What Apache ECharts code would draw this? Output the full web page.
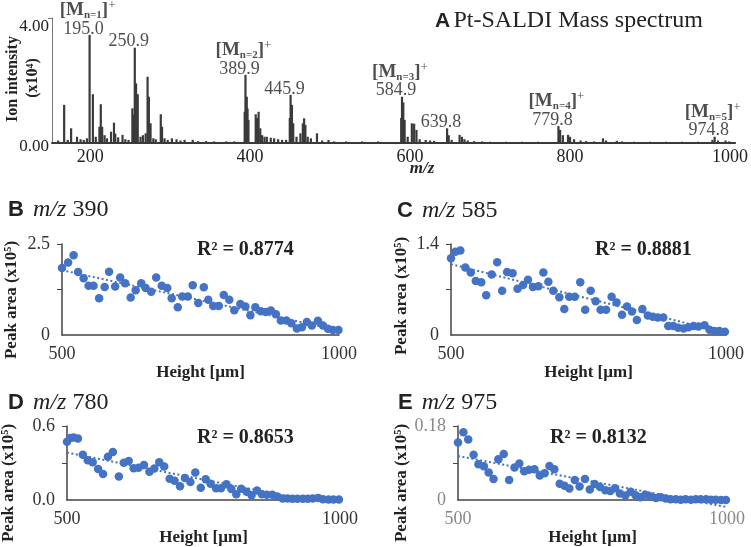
<!DOCTYPE html>
<html><head><meta charset="utf-8">
<script src="https://cdn.jsdelivr.net/npm/echarts@6/dist/echarts.min.js"></script>
<style>html,body{margin:0;padding:0;background:#fff}#c{width:751px;height:547px}</style>
</head><body><div id="c"></div>
<script>
const SERIF = '"Liberation Serif","Times New Roman",serif';
const SANS = '"Liberation Sans",Arial,sans-serif';

// ---------- Panel A: mass spectrum (intensity x10^4) ----------
const specMz = [167.5,176.2,183.6,199.3,203.4,211.6,213.3,215.0,226.1,229.8,231.4,240.5,252.8,254.5,255.8,257.4,259.5,269.4,271.8,273.4,275.5,288.3,289.9,302.2,328.2,
  393.2,394.2,395.8,396.8,397.9,407.0,408.5,410.6,412.7,420.9,425.8,449.6,450.6,452.3,453.9,462.9,465.9,467.5,469.1,483.6,498.0,
  588.9,589.9,591.5,593.2,602.2,605.1,608.0,619.5,646.3,648.3,661.9,664.9,785.5,787.6,797.5,800.0,813.2,841.2,858.5,980.8,994.4,
  160,172,188,192,196,207,218,221,235,244,248,263,266,279,282,293,297,308,313,318,335,345,355,370,380,415,418,430,435,440,445,458,472,476,490,505,520,540,560,
  597,612,625,630,652,668,672,680,690,700,720,740,760,791,805,820,830,845,865,880,900,920,940,960,978,985,999];
const specInt = [1.22,0.47,0.20,3.46,1.56,0.52,1.24,0.52,0.36,0.65,0.30,0.26,1.11,0.90,3.05,1.91,1.56,0.31,2.12,1.48,0.63,0.92,0.52,0.15,0.10,
  1.00,2.18,1.48,1.10,0.74,0.92,0.80,1.00,0.47,0.20,0.17,0.80,1.54,1.22,0.63,0.31,0.63,0.79,0.58,0.31,0.10,
  0.80,1.48,1.30,0.74,0.63,0.62,0.42,0.10,0.47,0.25,0.26,0.20,0.54,0.42,0.26,0.20,0.08,0.15,0.07,0.20,0.08,
  0.08,0.10,0.12,0.10,0.15,0.20,0.25,0.15,0.18,0.12,0.10,0.20,0.25,0.15,0.12,0.15,0.10,0.12,0.08,0.10,0.06,0.06,0.05,0.05,0.05,0.25,0.20,0.15,0.12,0.10,0.10,0.20,0.20,0.15,0.08,0.05,0.05,0.05,0.05,
  0.20,0.12,0.08,0.07,0.10,0.12,0.08,0.06,0.05,0.04,0.04,0.04,0.04,0.25,0.12,0.06,0.05,0.08,0.05,0.04,0.04,0.04,0.04,0.04,0.10,0.08,0.05];
const peakLabelText = ['195.0','250.9','389.9','445.9','584.9','639.8','779.8','974.8'];
const peakLabelMz = [199.3,255.8,394.2,450.6,589.9,646.3,785.5,980.8];
const peakLabelInt = [3.46,3.05,2.18,1.54,1.48,0.47,0.54,0.20];
const ionN = ['1','2','3','4','5'];
const ionMz = [199.3,394.2,589.9,785.5,980.8];
const ionInt = [3.46,2.18,1.48,0.54,0.20];
const specXTicks = [200,400,600,800,1000];
const specYTicks = [0,4];
const specYLabels = ['0.00','4.00'];

// ---------- Panels B-E: peak area (x10^5) vs height (um) ----------
const heightB = [500,511,521,529,539,548,557,567,577,585,596,605,614,624,633,643,651,661,670,680,690,698,709,717,727,736,746,756,764,773,783,792,802,811,822,831,840,849,859,868,877,886,895,905,914,924,933,942,951,962,971,980,989,999];
const areaB = [1.84,1.99,2.19,1.73,1.56,1.35,1.35,1.01,1.32,1.74,1.33,1.58,1.42,1.03,1.23,1.42,1.29,1.19,1.58,1.35,1.29,1.01,0.76,1.06,1.06,1.37,0.88,1.31,0.97,0.80,0.80,1.10,0.97,0.68,0.85,0.78,0.54,0.76,0.65,0.63,0.67,0.57,0.40,0.40,0.32,0.18,0.21,0.36,0.26,0.39,0.26,0.17,0.14,0.14];
const trendB = [[500,1.78],[1000,0.13]];

const heightC = [500,508,517,526,536,545,555,564,574,584,593,602,612,621,631,640,649,659,668,677,686,697,706,715,725,735,744,754,763,772,782,792,801,811,820,829,838,848,858,867,876,886,895,904,913,923,932,941,950,961,970,979,988,998];
const areaC = [1.18,1.28,1.30,1.04,0.96,0.83,0.81,0.61,0.93,1.12,0.68,0.97,0.95,0.71,0.77,0.85,0.74,0.75,0.96,0.82,0.68,0.58,0.40,0.59,0.59,0.81,0.39,0.68,0.52,0.39,0.39,0.59,0.50,0.31,0.44,0.36,0.23,0.40,0.30,0.28,0.27,0.27,0.14,0.14,0.11,0.10,0.12,0.14,0.13,0.15,0.08,0.06,0.06,0.05];
const trendC = [[500,1.09],[1000,0.03]];

const heightD = [500,506,512,520,529,538,547,557,566,575,584,595,604,613,622,631,641,651,660,669,678,688,697,707,716,726,735,745,754,763,773,782,792,801,810,819,829,838,848,857,866,876,885,895,904,913,922,932,941,950,960,969,979,988,998];
const areaD = [0.473,0.502,0.507,0.498,0.367,0.322,0.307,0.251,0.211,0.351,0.389,0.191,0.302,0.316,0.258,0.262,0.284,0.229,0.256,0.307,0.273,0.173,0.156,0.113,0.178,0.147,0.224,0.100,0.169,0.133,0.096,0.096,0.129,0.089,0.047,0.091,0.067,0.040,0.078,0.047,0.044,0.044,0.029,0.013,0.013,0.011,0.011,0.011,0.011,0.013,0.018,0.007,0.004,0.004,0.004];
const trendD = [[500,0.385],[940,0.0]];

const heightE = [500,510,519,529,538,548,557,566,575,585,595,605,614,623,632,642,652,661,670,679,689,698,707,717,726,736,745,754,764,774,783,792,801,811,821,830,839,848,858,868,877,886,895,905,914,923,933,942,951,961,970,979,989,998];
const areaE = [0.140,0.165,0.147,0.110,0.087,0.082,0.067,0.051,0.099,0.112,0.049,0.079,0.089,0.070,0.074,0.075,0.060,0.065,0.083,0.075,0.040,0.035,0.028,0.049,0.033,0.051,0.026,0.039,0.032,0.024,0.022,0.029,0.016,0.011,0.020,0.012,0.007,0.013,0.009,0.005,0.007,0.004,0.002,0.002,0.001,0.002,0.001,0.002,0.002,0.002,0.001,0.001,0.0,0.0];
const trendE = [[500,0.107],[1000,-0.017]];

const panelMax = [2.5, 1.4, 0.6, 0.18];
const panelYLabels = [['0','2.5'],['0','1.4'],['0.0','0.6'],['0','0.18']];
const panelXTicks = [500, 1000];
const panelLetters = ['B','C','D','E'];
const panelMz = ['390','585','780','975'];
const panelR2 = ['0.8774','0.8881','0.8653','0.8132'];

// ---------- layout / styles ----------
const BLUE = '#4472C4';
const grids = [
  {left:52, top:18, width:691, height:125},
  {left:62, top:244, width:277, height:91},
  {left:451, top:244, width:275, height:91},
  {left:67, top:426, width:273, height:90},
  {left:458, top:426, width:269, height:90}
];
const labelColor = ['#333','#333','#333','#888'];

const xAxes = [{
  gridIndex:0, type:'value', min:152.3, max:1006.4,
  axisLine:{show:true, lineStyle:{color:'#3a3a3a', width:2}},
  axisTick:{show:false}, splitLine:{show:false},
  axisLabel:{customValues:specXTicks, margin:5, fontFamily:SERIF, fontSize:18, color:'#222', formatter:(v)=>String(v)}
}];
const yAxes = [{
  gridIndex:0, type:'value', min:0, max:4,
  axisLine:{show:true, lineStyle:{color:'#777', width:1}},
  axisTick:{show:true, customValues:[4], length:4, lineStyle:{color:'#777'}},
  splitLine:{show:false},
  axisLabel:{customValues:specYTicks, margin:3, fontFamily:SERIF, fontSize:17, color:'#222',
    formatter:(v)=> v===4 ? '{t|'+specYLabels[1]+'}' : '{b|'+specYLabels[0]+'}',
    rich:{t:{fontFamily:SERIF, fontSize:17, color:'#222', padding:[18,0,0,0]},
          b:{fontFamily:SERIF, fontSize:17, color:'#222', padding:[8,0,0,0]}}}
}];
for (let k=0;k<4;k++){
  xAxes.push({
    gridIndex:k+1, type:'value', min:500, max:1000,
    name:'Height [µm]', nameLocation:'middle', nameGap:11,
    nameTextStyle:{fontFamily:SERIF, fontWeight:'bold', fontSize:17, color:'#222'},
    axisLine:{show:true, onZero:false, lineStyle:{color:'#444', width:1.5}},
    axisTick:{show:false}, splitLine:{show:false},
    axisLabel:{customValues:panelXTicks, margin:10, fontFamily:SERIF, fontSize:18, color:labelColor[k], formatter:(v)=>String(v)}
  });
  const M = panelMax[k];
  yAxes.push({
    gridIndex:k+1, type:'value', min:0, max:M,
    axisLine:{show:true, lineStyle:{color:'#444', width:1.5}},
    axisTick:{show:true, customValues:[M/2, M], length:5, lineStyle:{color:'#444'}},
    splitLine:{show:false},
    axisLabel:{customValues:[0, M], margin:12, fontFamily:SERIF, fontSize:18, color:labelColor[k],
      formatter:(v)=> v===0 ? panelYLabels[k][0] : panelYLabels[k][1]}
  });
}

const series = [
  {type:'bar', xAxisIndex:0, yAxisIndex:0, barWidth:2.2, silent:true,
   itemStyle:{color:'#3a3a3a'}, data:specMz.map((m,i)=>[m, specInt[i]])},
  {type:'scatter', xAxisIndex:0, yAxisIndex:0, symbolSize:1, silent:true,
   itemStyle:{color:'transparent'},
   label:{show:true, position:'inside', offset:[-6,-6], fontFamily:SERIF, fontSize:18, color:'#222',
     formatter:(p)=>p.data[2]},
   data:peakLabelMz.map((m,i)=>[m, peakLabelInt[i], peakLabelText[i]])},
  {type:'scatter', xAxisIndex:0, yAxisIndex:0, symbolSize:1, silent:true,
   itemStyle:{color:'transparent'},
   label:{show:true, position:'inside', offset:[-2,-25],
     formatter:(p)=>'{b|[M}{s|n='+p.data[2]+'}{b|]}{p|+}',
     rich:{b:{fontFamily:SERIF, fontWeight:'bold', fontSize:19, color:'#222', lineHeight:22},
           s:{fontFamily:SERIF, fontWeight:'bold', fontSize:11, color:'#222', verticalAlign:'bottom', lineHeight:14},
           p:{fontFamily:SERIF, fontSize:13, color:'#222', verticalAlign:'top', lineHeight:12}}},
   data:ionMz.map((m,i)=>[m, ionInt[i], ionN[i]])}
];
const sets = [[heightB,areaB,trendB],[heightC,areaC,trendC],[heightD,areaD,trendD],[heightE,areaE,trendE]];
sets.forEach((s,k)=>{
  series.push({type:'line', xAxisIndex:k+1, yAxisIndex:k+1, data:s[2], symbol:'none', clip:false, silent:true, z:2,
    lineStyle:{color:BLUE, width:2, type:[2,2.5]}});
  series.push({type:'scatter', xAxisIndex:k+1, yAxisIndex:k+1, symbolSize:8.5, clip:false, silent:true, z:3,
    itemStyle:{color:BLUE, opacity:1}, data:s[0].map((h,i)=>[h, s[1][i]])});
});

const graphic = [
  {type:'text', x:435, y:21, style:{text:'{a|A} {t|Pt-SALDI Mass spectrum}', verticalAlign:'middle',
    rich:{a:{fontFamily:SANS, fontWeight:'bold', fontSize:21, fill:'#222'}, t:{fontFamily:SERIF, fontSize:24, fill:'#222'}}}},
  {type:'text', x:13, y:79, rotation:Math.PI/2, style:{text:'Ion intensity', align:'center', verticalAlign:'middle',
    fontFamily:SERIF, fontWeight:'bold', fontSize:16, fill:'#222'}},
  {type:'text', x:33, y:78, rotation:Math.PI/2, style:{text:'(x10⁴)', align:'center', verticalAlign:'middle',
    fontFamily:SERIF, fontWeight:'bold', fontSize:16, fill:'#222'}},
  {type:'text', x:422, y:169, style:{text:'m/z', align:'center', verticalAlign:'middle',
    fontFamily:SERIF, fontWeight:'bold', fontStyle:'italic', fontSize:17, fill:'#222'}}
];
const titlePos = [[8,210],[397,211],[8,403],[398,403]];
const yTitlePos = [[12,300],[402,296],[9,483],[402,483]];
const r2Pos = [[197,250],[595,250],[197,438],[550,438]];
for (let k=0;k<4;k++){
  graphic.push({type:'text', x:titlePos[k][0], y:titlePos[k][1], style:{
    text:'{l|'+panelLetters[k]+'}{i|m/z} {n|'+panelMz[k]+'}', verticalAlign:'middle',
    rich:{l:{fontFamily:SANS, fontWeight:'bold', fontSize:22, fill:'#222', padding:[0,9,0,0]},
          i:{fontFamily:SERIF, fontStyle:'italic', fontSize:24, fill:'#222'},
          n:{fontFamily:SERIF, fontSize:24, fill:'#222', padding:[0,0,0,3]}}}});
  graphic.push({type:'text', x:yTitlePos[k][0], y:yTitlePos[k][1], rotation:Math.PI/2, style:{
    text:'Peak area (x10⁵)', align:'center', verticalAlign:'middle',
    fontFamily:SERIF, fontWeight:'bold', fontSize:17, fill:'#222'}});
  graphic.push({type:'text', x:r2Pos[k][0], y:r2Pos[k][1], style:{
    text:'R² = '+panelR2[k], verticalAlign:'middle',
    fontFamily:SERIF, fontWeight:'bold', fontSize:20, fill:'#222'}});
}

const chart = echarts.init(document.getElementById('c'), null, {renderer:'canvas'});
chart.setOption({animation:false, backgroundColor:'#fff', grid:grids, xAxis:xAxes, yAxis:yAxes, series:series, graphic:graphic});
</script></body></html>
